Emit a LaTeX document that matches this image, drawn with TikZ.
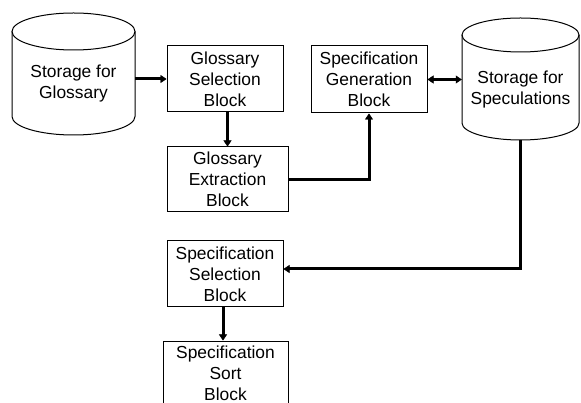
\documentclass[tikz,border=0pt]{standalone}
\usepackage{fontspec}
\setmainfont{Liberation Sans}
\usetikzlibrary{arrows.meta}
\begin{document}
\begin{tikzpicture}[x=1pt,y=-1pt,
  txt/.style={align=center, inner sep=0pt, font=\fontsize{17.4}{21}\selectfont},
  blk/.style={txt, draw, line width=1pt},
  cylline/.style={line width=1pt},
  tip/.tip={Triangle[length=6pt,width=8pt,line width=0.4pt]},
  arr/.style={line width=3pt, -tip},
  darr/.style={line width=3pt, tip-tip}]
\useasboundingbox (0,0) rectangle (581,403);
\clip (0,0) rectangle (581,403);
\fill[white] (0,0) rectangle (581,403);

% Storage for Glossary cylinder
\draw[cylline] (12,31.5) -- (12,116.5)
  arc[start angle=180,end angle=360,x radius=61.5pt,y radius=18.5pt] -- (135,31.5);
\draw[cylline] (73.5,31.5) ellipse[x radius=61.5pt,y radius=18.5pt];
\node[inner sep=0pt, minimum width=123pt, minimum height=122pt] (sg) at (73.5,74) {};
\node[txt] (sgt) at (73.5,84) {Storage for\\Glossary};

% Storage for Speculations cylinder
\draw[cylline] (462,35) -- (462,123)
  arc[start angle=180,end angle=360,x radius=58.5pt,y radius=17pt] -- (579,35);
\draw[cylline] (520.5,35) ellipse[x radius=58.5pt,y radius=17pt];
\node[inner sep=0pt, minimum width=117pt, minimum height=122pt] (ss) at (520.5,79) {};
\node[txt] (sst) at (520.5,90) {Storage for\\Speculations};

% Blocks
\node[blk, minimum width=116pt, minimum height=66pt] (gsel) at (225,79) {Glossary\\Selection\\Block};
\node[blk, minimum width=121pt, minimum height=65pt] (gext) at (227.5,179.5) {Glossary\\Extraction\\Block};
\node[blk, minimum width=116pt, minimum height=67pt] (sgen) at (369,79.5) {Specification\\Generation\\Block};
\node[blk, minimum width=116pt, minimum height=66pt] (ssel) at (225,274) {Specification\\Selection\\Block};
\node[blk, minimum width=125pt, minimum height=64pt] (ssort) at (225.5,373) {Specification\\Sort\\Block};

% Connectors
\draw[arr] (sg.east |- gsel.west) -- (gsel.west);
\draw[arr] (gext.north |- gsel.south) -- (gext.north);
\draw[arr] (gext.east) -| (sgen.south);
\draw[darr] (sgen.east) -- (ss.west |- sgen.east);
\draw[arr] (ss.south) |- ([yshift=5pt]ssel.east);
\draw[arr] ([xshift=-2pt]ssel.south) -- ([xshift=-2pt]ssel.south |- ssort.north);
\end{tikzpicture}
\end{document}
